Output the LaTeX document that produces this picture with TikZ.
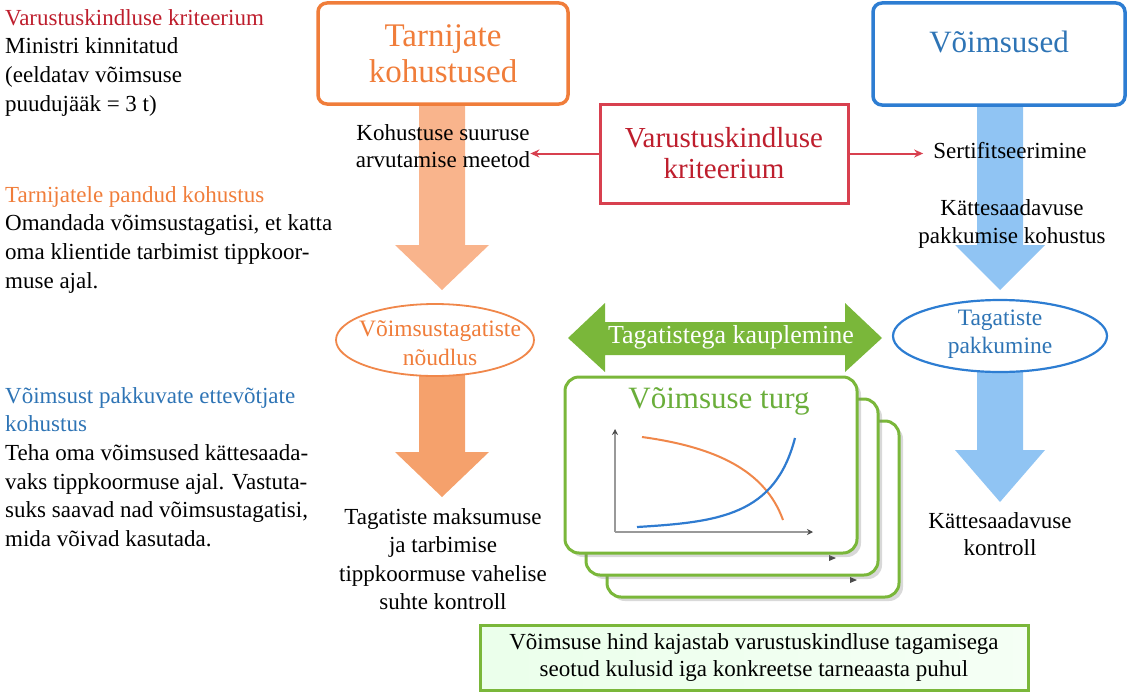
\documentclass[tikz,border=0pt]{standalone}
\usepackage{fontspec}
\setmainfont{Liberation Serif}
\usetikzlibrary{shapes.geometric,arrows.meta,calc,shadows}
\definecolor{dred}{HTML}{BE1E2D}
\definecolor{redline}{HTML}{D8404F}
\definecolor{orng}{HTML}{F07D3A}
\definecolor{peach}{HTML}{F9B48C}
\definecolor{peachd}{HTML}{F5A16C}
\definecolor{blu}{HTML}{2D7DD2}
\definecolor{blutxt}{HTML}{2E74B5}
\definecolor{lblu}{HTML}{90C4F3}
\definecolor{grn}{HTML}{7AB73A}
\definecolor{grntxt}{HTML}{6AAE3A}
\definecolor{oline}{HTML}{F0874A}
\definecolor{bline}{HTML}{2F7BD0}
\newcommand\fatarr[6]{% start, tip, colour, shaft half width, head half width, head length
  \fill[#3] let \p1=(#1), \p2=(#2) in
    (\x1-#4pt,\y1) -- (\x1+#4pt,\y1) -- (\x1+#4pt,\y2+#6pt) -- (\x1+#5pt,\y2+#6pt)
    -- (\x2,\y2) -- (\x1-#5pt,\y2+#6pt) -- (\x1-#4pt,\y2+#6pt) -- cycle;}
\begin{document}
\begin{tikzpicture}[x=1pt,y=-1pt,
  body/.style={inner sep=0pt, align=left, font=\fontsize{23}{28.7}\selectfont},
  ctext/.style={inner sep=0pt, align=center, font=\fontsize{23}{27.5}\selectfont},
  obox/.style={draw=orng, line width=3.5pt, rounded corners=9pt, minimum width=250pt, minimum height=101pt, inner sep=0pt},
  bbox/.style={draw=blu, line width=3.5pt, rounded corners=9pt, minimum width=252pt, minimum height=102pt, inner sep=0pt},
  rbox/.style={draw=redline, line width=3pt, minimum width=248pt, minimum height=99pt, inner sep=0pt},
  redarr/.style={draw=redline, line width=2pt, -{Stealth[length=9pt,width=8pt]}},
  ell/.style={ellipse, inner sep=0pt, fill=white},
  elltext/.style={inner sep=0pt, align=center, font=\fontsize{23.5}{28.5}\selectfont},
  card/.style={draw=grn, line width=3pt, rounded corners=14pt, fill=white, minimum width=292pt, minimum height=176pt, inner sep=0pt,
    drop shadow={opacity=0.3, shadow xshift=4pt, shadow yshift=-4pt}},
]
\useasboundingbox (0,0) rectangle (1131,693);

% ---- left texts
\node[body, anchor=north west] (t1) at (5,9)
  {\textcolor{dred}{Varustuskindluse kriteerium}\\Ministri kinnitatud\\(eeldatav võimsuse\\puudujääk = 3 t)};
\node[body, anchor=north west] (t2) at (5,186)
  {\textcolor{orng}{Tarnijatele pandud kohustus}\\Omandada võimsustagatisi, et katta\\oma klientide tarbimist tippkoor-\\muse ajal.};
\node[body, anchor=north west] (t3) at (5,387)
  {\textcolor{blutxt}{Võimsust pakkuvate ettevõtjate}\\\textcolor{blutxt}{kohustus}\\Teha oma võimsused kättesaada-\\vaks tippkoormuse ajal. Vastuta-\\suks saavad nad võimsustagatisi,\\mida võivad kasutada.};

% ---- fat arrows
\coordinate (oa1s) at (442,104);  \coordinate (oa1t) at (442,290);
\coordinate (oa2s) at (442,372);  \coordinate (oa2t) at (442,497);
\coordinate (ba1s) at (1000,105); \coordinate (ba1t) at (1000,290);
\coordinate (ba2s) at (1000,370); \coordinate (ba2t) at (1000,502);
\fatarr{oa1s}{oa1t}{peach}{23}{47}{45}
\fatarr{oa2s}{oa2t}{peachd}{23}{47}{45}
\fatarr{ba1s}{ba1t}{lblu}{23}{45}{45}
\fatarr{ba2s}{ba2t}{lblu}{23}{45}{52}

% ---- top boxes
\node[obox, align=center, text=orng, font=\fontsize{33}{36}\selectfont] (tk) at (443,53.5) {Tarnijate\\kohustused};
\node[bbox] (cap) at (999,54) {};
\node[inner sep=0pt, text=blutxt, font=\fontsize{31}{36}\selectfont] (capt) at (999,42) {Võimsused};
\node[rbox, align=center, text=dred, font=\fontsize{29}{31}\selectfont] (crit) at (724,153.5) {Varustuskindluse\\kriteerium};

% ---- texts on arrows
\node[ctext] (meth) at (443,146) {Kohustuse suuruse\\arvutamise meetod};
\node[ctext] (cert) at (1010,151) {Sertifitseerimine};
\node[ctext] (avail) at (1012,224) {Kättesaadavuse\\pakkumise kohustus};

\draw[redarr] (crit.west) -- (crit.west -| meth.east);
\draw[redarr, shorten >=10pt] (crit.east) -- (crit.east -| cert.west);

% ---- ellipses
\node[ell, draw=oline, line width=1.8pt, minimum width=198pt, minimum height=72pt] (dem) at (435,340) {};
\node[elltext, text=orng] (demt) at (440,343) {Võimsustagatiste\\nõudlus};
\node[ell, draw=blu, line width=2.2pt, minimum width=214pt, minimum height=72pt] (off) at (1000,336) {};
\node[elltext, text=blutxt] (offt) at (1000,334) {Tagatiste\\pakkumine};

\node[ctext, font=\fontsize{23}{28.5}\selectfont] (ctrl) at (443,559) {Tagatiste maksumuse\\ja tarbimise\\tippkoormuse vahelise\\suhte kontroll};
\node[ctext] (actrl) at (1000,534) {Kättesaadavuse\\kontroll};

% ---- green double arrow
\fill[grn] (568,338) -- (605,303) -- (605,322) -- (845,322) -- (845,303) -- (882,338)
  -- (845,372) -- (845,355) -- (605,355) -- (605,372) -- cycle;
\node[inner sep=0pt, text=white, font=\fontsize{26}{30}\selectfont] (trade) at (731,337) {Tagatistega kauplemine};

% ---- cards
\node[card] (card3) at (753,509) {};
\node[card] (card2) at (732,487) {};
\fill[black!70] (829,555) -- (836,558) -- (829,561) -- cycle;
\fill[black!70] (850,577) -- (857,580) -- (850,583) -- cycle;
\node[card] (card1) at (711,465) {};
\node[inner sep=0pt, text=grntxt, font=\fontsize{31}{36}\selectfont] (mkt) at (719,401) {Võimsuse turg};

% chart
\coordinate (o) at (615,532);
\coordinate (ytop) at (615,429);
\coordinate (xend) at (813,532);
\draw[black!40, line width=1.3pt, -{Stealth[length=6pt,width=6pt,color=black!70]}] (o) -- (ytop);
\draw[black!40, line width=1.3pt, -{Stealth[length=6pt,width=6pt,color=black!70]}] (o) -- (xend);
\draw[oline, line width=2pt] (642,437) .. controls (715,447) and (765,470) .. (783,520);
\draw[bline, line width=2.2pt] (637,527) .. controls (720,522) and (775,515) .. (795,438);

% ---- bottom box
\node[draw=grn, line width=3pt, left color=green!8!white, right color=green!4!white, minimum width=548pt, minimum height=65pt,
  ctext, font=\fontsize{23}{27}\selectfont] (price) at (754,657.5)
  {Võimsuse hind kajastab varustuskindluse tagamisega\\seotud kulusid iga konkreetse tarneaasta puhul};
\end{tikzpicture}
\end{document}
